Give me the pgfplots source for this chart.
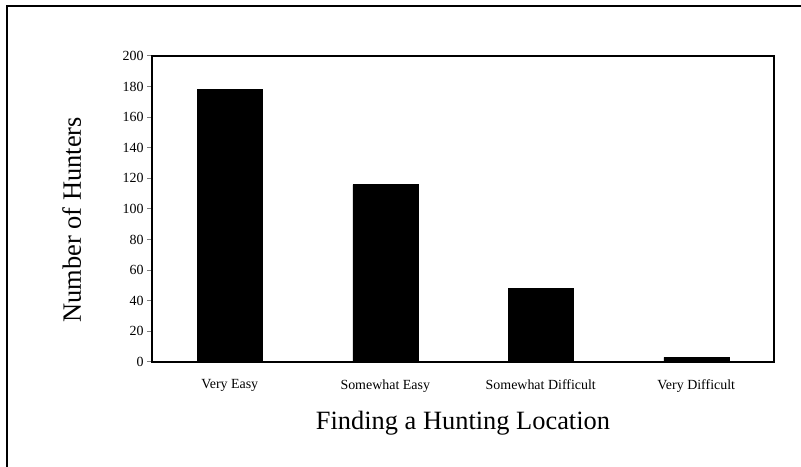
\documentclass[border=0pt]{standalone}
\usepackage{fontspec}
\setmainfont{Liberation Serif}
\usepackage{pgfplots}
\pgfplotsset{compat=1.18}
\begin{document}
\begin{tikzpicture}
\useasboundingbox (0,0) rectangle (801bp,467bp);
% outer frame: only top and left edges show in the reference
\draw[line width=2bp] (7bp,0) -- (7bp,461bp) -- (801bp,461bp);
\begin{axis}[
    at={(152bp,105bp)}, anchor=south west,
    scale only axis,
    width=622bp, height=306bp,
    ybar, bar width=65bp,
    xmin=-0.5, xmax=3.5,
    ymin=0, ymax=200,
    ytick={0,20,...,200},
    xtick={0,1,2,3},
    xticklabels={Very Easy,Somewhat Easy,Somewhat Difficult,Very Difficult},
    major x tick style={draw=none},
    extra x ticks={-0.5,0.5,1.5,2.5,3.5},
    extra x tick labels={},
    extra x tick style={major tick length=5bp, tick style={draw=black, line width=1bp}},
    xtick pos=bottom, ytick pos=left,
    tick align=outside,
    major tick length=5bp,
    y tick style={line width=1bp},
    axis line style={line width=1.5bp},
    tick label style={font=\fontsize{14}{14}\selectfont},
    yticklabel style={/pgf/number format/assume math mode=true},
    xticklabel style={yshift=-9bp},
    label style={font=\fontsize{26.5}{26.5}\selectfont},
    xlabel={Finding a Hunting Location},
    ylabel={Number of Hunters},
    xlabel style={at={(axis description cs:0.5,-0.2)}, anchor=center},
    ylabel style={at={(axis description cs:-0.129,0.465)}, anchor=center},
    clip=false,
  ]
  \addplot[fill=black, draw=black] coordinates {
    (0,178)
    (1,116)
    (2,48)
    (3,3)
  };
\end{axis}
\end{tikzpicture}
\end{document}
